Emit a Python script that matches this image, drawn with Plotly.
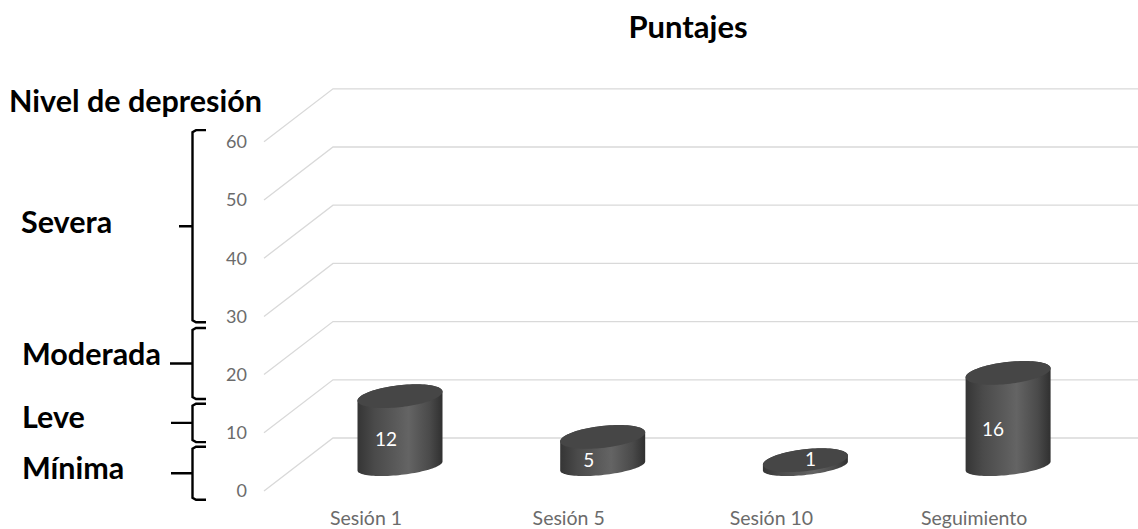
import numpy as np
import plotly.graph_objects as go

# ---- data ----
categories = ["Sesión 1", "Sesión 5", "Sesión 10", "Seguimiento"]
puntajes = [12, 5, 1, 16]
y_ticks = [0, 10, 20, 30, 40, 50, 60]
level_names = ["Mínima", "Leve", "Moderada", "Severa"]
level_low = [-1.5, 8.4, 15.8, 29.0]
level_high = [7.6, 15.0, 28.0, 62.0]

# ---- layout constants (figure pixels) ----
W, H = 1138, 529
PX_PER_UNIT = 5.82
ZERO_PX = 491.0
X0_PX, STEP_PX = 400.0, 202.7


def xv(px):
    return (px - X0_PX) / STEP_PX


def u(px):
    return px / PX_PER_UNIT


def yv(py):
    return (ZERO_PX - py) / PX_PER_UNIT


depth = u(53)
bar_base = u(25)
a = 42.5 / STEP_PX
shear = u(4.5)
b_top = u(11)
b_bottom = u(9)
t_low = np.linspace(np.pi, 2 * np.pi, 50)
t_high = np.linspace(0, np.pi, 50)
t_all = np.linspace(0, 2 * np.pi, 100)

fig = go.Figure()

# floor / wall gridlines
for v in y_ticks:
    fig.add_trace(go.Scatter(
        x=[xv(264), xv(333), xv(W)],
        y=[v, v + depth, v + depth],
        mode="lines", line=dict(color="#d9d9d9", width=1.3),
        hoverinfo="skip", showlegend=False))

# cylinders
gradient = [[0, "#353535"], [0.2, "#4a4a4a"], [0.6, "#646464"], [0.85, "#4a4a4a"], [1, "#303030"]]
for i, (cat, v) in enumerate(zip(categories, puntajes)):
    bottom = bar_base
    top = bar_base + v
    xs = np.concatenate([i + a * np.cos(t_low), i + a * np.cos(t_high)])
    ys = np.concatenate([bottom + shear * np.cos(t_low) + b_bottom * np.sin(t_low),
                         top + shear * np.cos(t_high) + b_top * np.sin(t_high)])
    fig.add_trace(go.Scatter(
        x=xs, y=ys, mode="none", fill="toself",
        fillgradient=dict(type="horizontal", colorscale=gradient),
        name=cat, showlegend=False, hoverinfo="skip"))
    fig.add_trace(go.Scatter(
        x=i + a * np.cos(t_all), y=top + shear * np.cos(t_all) + b_top * np.sin(t_all),
        mode="none", fill="toself", fillcolor="#464646",
        showlegend=False, hoverinfo="skip"))

# value labels
label_dx = [-14, -14, 5, -15]
label_dy = [10, 11, -2, 12]
fig.add_trace(go.Scatter(
    x=[i + dx / STEP_PX for i, dx in enumerate(label_dx)],
    y=[bar_base + v / 2 - u(dy) for v, dy in zip(puntajes, label_dy)],
    mode="text", text=[str(v) for v in puntajes],
    textposition="middle center",
    textfont=dict(family="Lato", size=19, color="#ffffff"),
    showlegend=False, hoverinfo="skip"))

# depression level brackets
bx_spine, bx_end = xv(192.5), xv(206)
nib_px = {"Mínima": 171, "Leve": 171, "Moderada": 170, "Severa": 179}
for name, lo, hi in zip(level_names, level_low, level_high):
    mid = (lo + hi) / 2
    fig.add_trace(go.Scatter(
        x=[bx_end, xv(196), bx_spine, bx_spine, xv(nib_px[name]), bx_spine, bx_spine, xv(196), bx_end],
        y=[hi, hi, hi - u(2), mid, mid, mid, lo + u(2), lo, lo],
        mode="lines", line=dict(color="#000000", width=2.4),
        showlegend=False, hoverinfo="skip"))

label_font = dict(family="Lato", size=30.5, color="#000000")
annotations = [
    dict(text="Nivel de depresión", x=xv(7), y=yv(100)),
    dict(text="Severa", x=xv(19), y=yv(221)),
    dict(text="Moderada", x=xv(20), y=yv(353)),
    dict(text="Leve", x=xv(20), y=yv(416)),
    dict(text="Mínima", x=xv(20), y=yv(467)),
]
for ann in annotations:
    ann.update(text=f"<b>{ann['text']}</b>", xref="x", yref="y", xanchor="left",
               yanchor="middle", showarrow=False, font=label_font)

fig.update_layout(
    width=W, height=H,
    margin=dict(l=0, r=0, t=0, b=0),
    paper_bgcolor="#ffffff", plot_bgcolor="#ffffff",
    title=dict(text="<b>Puntajes</b>", x=688 / W, y=1 - 27 / H,
               xanchor="center", yanchor="middle",
               font=dict(family="Lato", size=31, color="#000000")),
    annotations=annotations,
    xaxis=dict(range=[xv(0), xv(W)], tickmode="array",
               tickvals=[i - 34 / STEP_PX for i in range(len(categories))],
               ticktext=categories, showgrid=False, zeroline=False, showline=False,
               ticks="", anchor="free", position=25 / H,
               tickfont=dict(family="Lato", size=19.5, color="#6b6b6b")),
    yaxis=dict(range=[yv(H), yv(0)], tickmode="array", tickvals=y_ticks,
               showgrid=False, zeroline=False, showline=False, ticks="",
               anchor="free", position=247 / W,
               tickfont=dict(family="Lato", size=18, color="#6b6b6b")),
)
fig.write_html("out.html", config={"displayModeBar": False},
               post_script="document.body.style.margin='0';document.body.style.overflow='hidden';")
